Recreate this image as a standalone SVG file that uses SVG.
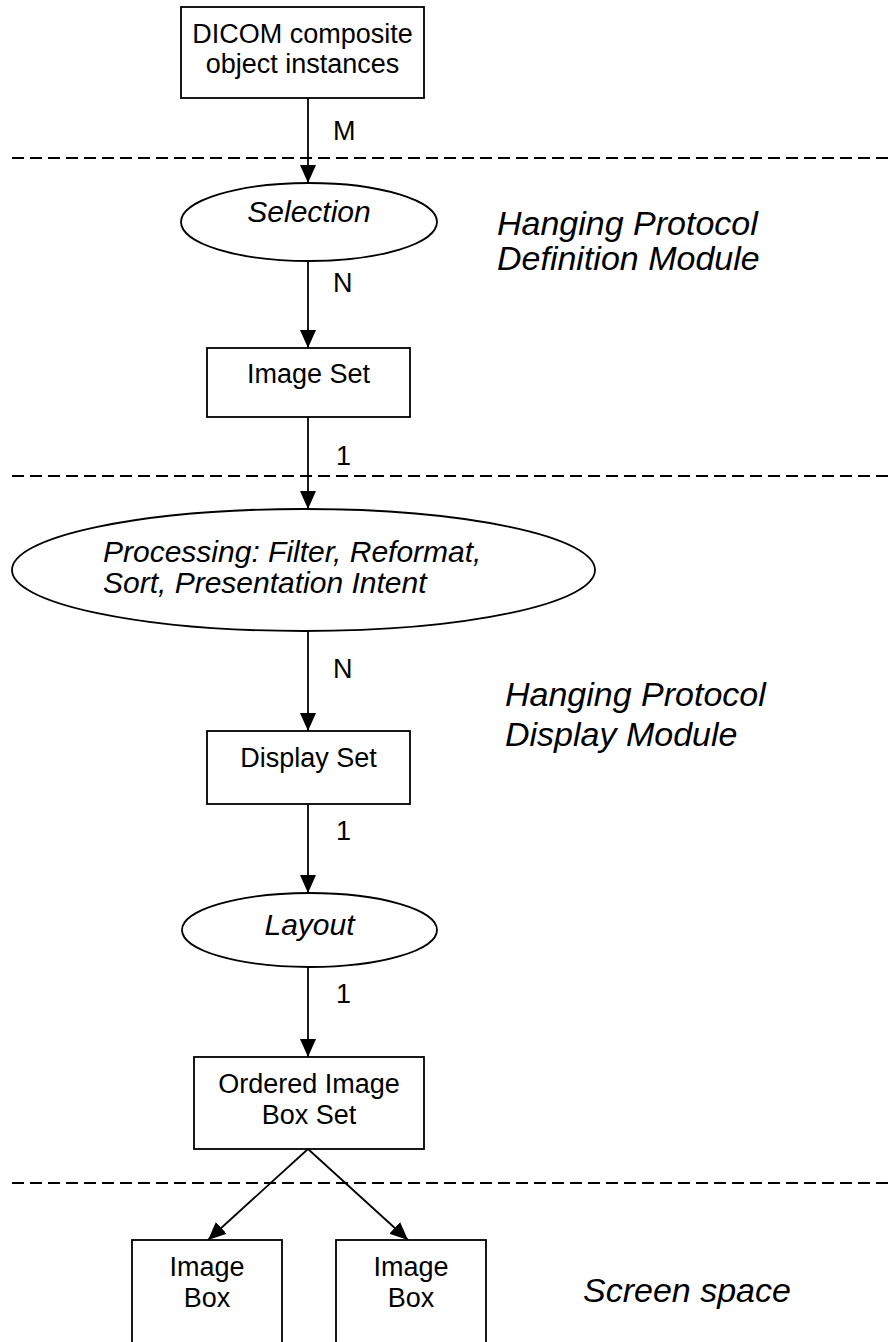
<svg xmlns="http://www.w3.org/2000/svg" width="890" height="1342" viewBox="0 0 890 1342">
<defs>
<marker id="ah" viewBox="0 0 18 16" refX="18" refY="8" markerWidth="18" markerHeight="16" markerUnits="userSpaceOnUse" orient="auto">
<path d="M0,0 L18,8 L0,16 z" fill="#000"/>
</marker>
<style>
.box{fill:#fff;stroke:#000;stroke-width:1.8}
.t{font-family:"Liberation Sans",Arial,sans-serif;font-size:27px;fill:#000}
.c{text-anchor:middle}
.i{font-style:italic;font-size:30px}
.big{font-style:italic;font-size:34px}
.edge{stroke:#000;stroke-width:1.8;fill:none;marker-end:url(#ah)}
.dash{stroke:#000;stroke-width:1.8;stroke-dasharray:12 6;fill:none}
</style>
</defs>
<rect width="890" height="1342" fill="#fff"/>
<g id="separators">
<line class="dash" x1="12" y1="158" x2="888" y2="158"/>
<line class="dash" x1="12" y1="476" x2="888" y2="476"/>
<line class="dash" x1="12" y1="1183" x2="888" y2="1183"/>
</g>
<g id="connectors">
<line class="edge" x1="308" y1="98" x2="308" y2="183"/>
<line class="edge" x1="308" y1="261" x2="308" y2="348"/>
<line class="edge" x1="308" y1="417" x2="308" y2="509"/>
<line class="edge" x1="308" y1="631" x2="308" y2="731"/>
<line class="edge" x1="308" y1="804" x2="308" y2="893"/>
<line class="edge" x1="308" y1="967" x2="308" y2="1057"/>
<line class="edge" x1="308" y1="1149" x2="208" y2="1240"/>
<line class="edge" x1="308" y1="1149" x2="408" y2="1240"/>
<text class="t" x="333" y="140">M</text>
<text class="t" x="333" y="292">N</text>
<text class="t" x="336" y="465">1</text>
<text class="t" x="333" y="678">N</text>
<text class="t" x="336" y="840">1</text>
<text class="t" x="336" y="1003">1</text>
</g>
<g id="dicom">
<rect class="box" x="181" y="7" width="243" height="91"/>
<text class="t c" x="302.5" y="43">DICOM composite</text>
<text class="t c" x="302.5" y="73">object instances</text>
</g>
<g id="selection">
<ellipse class="box" cx="309" cy="222" rx="128" ry="39"/>
<text class="t c i" x="309" y="222">Selection</text>
</g>
<g id="imageset">
<rect class="box" x="207" y="348" width="203" height="69"/>
<text class="t c" x="308.5" y="383">Image Set</text>
</g>
<g id="processing">
<ellipse class="box" cx="303.5" cy="570" rx="291.5" ry="61"/>
<text class="t i" x="103" y="562">Processing: Filter, Reformat,</text>
<text class="t i" x="103" y="593">Sort, Presentation Intent</text>
</g>
<g id="displayset">
<rect class="box" x="207" y="731" width="203" height="73"/>
<text class="t c" x="308.5" y="767">Display Set</text>
</g>
<g id="layout">
<ellipse class="box" cx="309.5" cy="930" rx="127.5" ry="37"/>
<text class="t c i" x="309.5" y="935">Layout</text>
</g>
<g id="ordered">
<rect class="box" x="194" y="1057" width="230" height="92"/>
<text class="t c" x="309" y="1093">Ordered Image</text>
<text class="t c" x="309" y="1124">Box Set</text>
</g>
<g id="imagebox1">
<rect class="box" x="132" y="1240" width="150" height="110"/>
<text class="t c" x="207" y="1276">Image</text>
<text class="t c" x="207" y="1307">Box</text>
</g>
<g id="imagebox2">
<rect class="box" x="336" y="1240" width="150" height="110"/>
<text class="t c" x="411" y="1276">Image</text>
<text class="t c" x="411" y="1307">Box</text>
</g>
<g id="labels">
<text class="t big" x="497" y="235">Hanging Protocol</text>
<text class="t big" x="497" y="270">Definition Module</text>
<text class="t big" x="505" y="706">Hanging Protocol</text>
<text class="t big" x="505" y="746">Display Module</text>
<text class="t big" x="583" y="1302">Screen space</text>
</g>
</svg>
